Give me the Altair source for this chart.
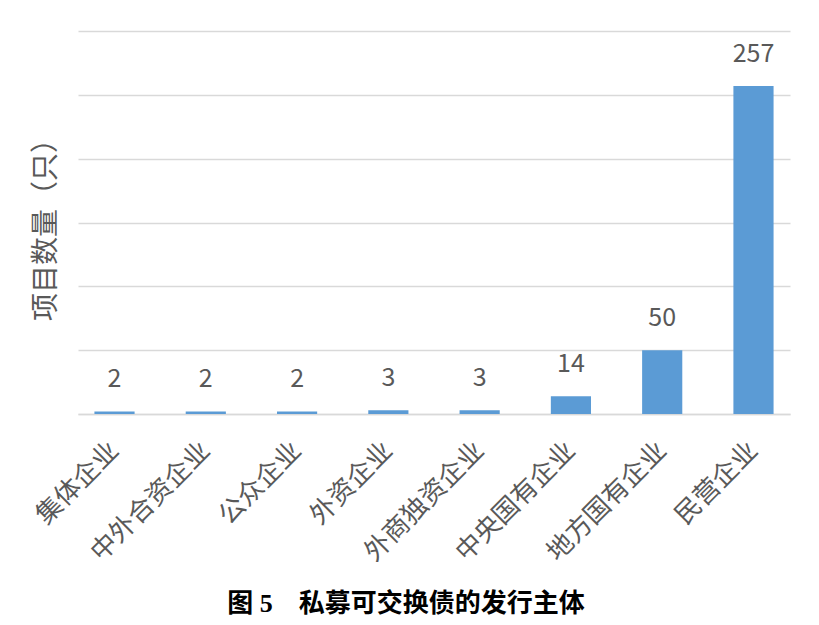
import pandas as pd
import altair as alt

# 发行主体 and 项目数量
categories = ["集体企业", "中外合资企业", "公众企业", "外资企业",
              "外商独资企业", "中央国有企业", "地方国有企业", "民营企业"]
counts = [2, 2, 2, 3, 3, 14, 50, 257]
y_ticks = [0, 50, 100, 150, 200, 250, 300]

df = pd.DataFrame({"category": categories, "count": counts})

GREY = "#595959"
GRID = "#d9d9d9"
FONT = "Noto Sans CJK SC"

base = alt.Chart(df).encode(
    x=alt.X(
        "category:N",
        sort=categories,
        scale=alt.Scale(paddingInner=0.56, paddingOuter=0.18),
        axis=alt.Axis(
            title=None,
            labelAngle=-45,
            labelAlign="right",
            labelBaseline="middle",
            labelFontSize=26,
            labelFont=FONT,
            labelColor=GREY,
            labelPadding=32,
            ticks=False,
            domainColor=GRID,
            domainWidth=1.5,
        ),
    ),
    y=alt.Y(
        "count:Q",
        scale=alt.Scale(domain=[0, 300]),
        axis=alt.Axis(
            title="项目数量（只）",
            titleFontSize=28,
            titleFont=FONT,
            titleFontWeight="normal",
            titleColor=GREY,
            titlePadding=18,
            values=y_ticks,
            labels=False,
            ticks=False,
            domain=False,
            gridColor=GRID,
            gridWidth=1.5,
        ),
    ),
)

bars = base.mark_bar(color="#5b9bd5")

# value labels above each bar
values = base.mark_text(
    baseline="alphabetic",
    dy=-24,
    fontSize=25,
    font=FONT,
    color=GREY,
).encode(text="count:Q")

chart = (bars + values).properties(
    width=712,
    height=383,
    autosize=alt.AutoSizeParams(type="none"),
    padding={"left": 70, "top": 23, "right": 21, "bottom": 203},
    title=alt.TitleParams(
        "图 5　私募可交换债的发行主体",
        orient="bottom",
        anchor="middle",
        dx=-28,
        offset=25,
        fontSize=26,
        font="Liberation Serif, Noto Sans CJK SC",
        fontWeight="bold",
        color="#000000",
    ),
).configure_view(stroke=None)

chart.save("out.html", embed_options={"renderer": "svg", "actions": False})
